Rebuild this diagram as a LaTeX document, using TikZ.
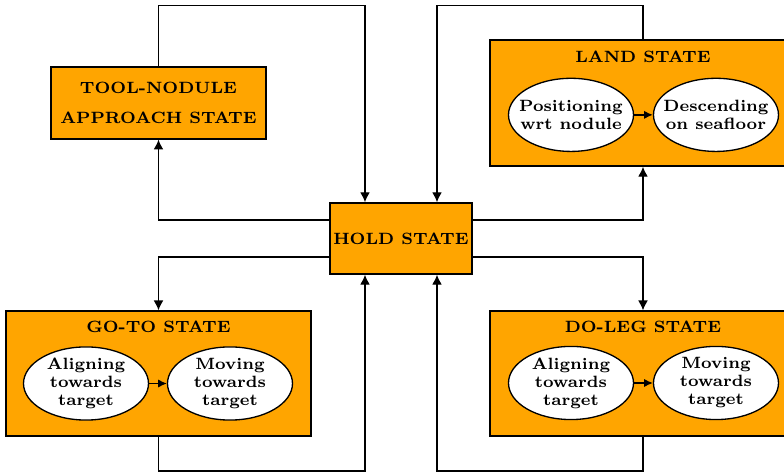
\documentclass[tikz,border=0pt]{standalone}
\usepackage{tikz}
\usetikzlibrary{shapes.geometric,arrows.meta,positioning,calc}
\definecolor{modeorange}{HTML}{FFA500}

\begin{document}
\begin{tikzpicture}[font=\fontsize{7.45}{8.2}\selectfont\bfseries,mode/.style={draw,fill=modeorange,line width=0.6pt,align=center,inner sep=0pt},phase/.style={ellipse,draw,fill=white,line width=0.6pt,align=center,minimum width=2cm,minimum height=1.17cm,inner xsep=-5pt,inner ysep=-2pt},link/.style={-{Latex[length=4.5pt,width=4.5pt]},line width=0.6pt},sublink/.style={-{Latex[length=4pt,width=3.8pt]},line width=0.6pt}]
\useasboundingbox (-6.416,-3.784) rectangle (6.128,3.816);
\coordinate (top) at (0,3.728);
\coordinate (bot) at (0,-3.72);
\node[mode,minimum width=2.27cm,minimum height=1.14cm] (hold) at (0,0) {HOLD STATE};
\node[mode,minimum width=3.44cm,minimum height=1.15cm] (tool) at (-3.88,2.168) {TOOL-NODULE\\[5.5pt]APPROACH STATE};
\node[mode,minimum width=4.9cm,minimum height=2.02cm] (land) at (3.872,2.168) {};
\node[mode,minimum width=4.88cm,minimum height=2cm] (goto) at (-3.88,-2.16) {};
\node[mode,minimum width=4.9cm,minimum height=2cm] (doleg) at (3.872,-2.16) {};
\node at ([yshift=-0.29cm]land.north) {LAND STATE};
\node at ([yshift=-0.27cm]goto.north) {GO-TO STATE};
\node at ([yshift=-0.27cm]doleg.north) {DO-LEG STATE};
\node[phase] (land1) at ([shift={(-1.152,-0.19)}]land.center) {Positioning\\wrt nodule};
\node[phase] (land2) at ([shift={(1.168,-0.19)}]land.center) {Descending\\on seafloor};
\node[phase] (goto1) at ([shift={(-1.16,-0.16)}]goto.center) {Aligning\\towards\\target};
\node[phase] (goto2) at ([shift={(1.144,-0.16)}]goto.center) {Moving\\towards\\target};
\node[phase] (doleg1) at ([shift={(-1.152,-0.152)}]doleg.center) {Aligning\\towards\\target};
\node[phase] (doleg2) at ([shift={(1.168,-0.152)}]doleg.center) {Moving\\towards\\target};
\draw[link] (tool.north) -- (tool.north |- top) -| ([xshift=-0.576cm]hold.north);
\draw[link] ([yshift=0.296cm]hold.west) -| (tool.south);
\draw[link] (land.north) -- (land.north |- top) -| ([xshift=0.576cm]hold.north);
\draw[link] ([yshift=0.296cm]hold.east) -| (land.south);
\draw[link] ([yshift=-0.296cm]hold.west) -| (goto.north);
\draw[link] (goto.south) -- (goto.south |- bot) -| ([xshift=-0.576cm]hold.south);
\draw[link] ([yshift=-0.296cm]hold.east) -| (doleg.north);
\draw[link] (doleg.south) -- (doleg.south |- bot) -| ([xshift=0.576cm]hold.south);
\draw[sublink] (land1) -- (land2);\draw[sublink] (goto1) -- (goto2);\draw[sublink] (doleg1) -- (doleg2);
\end{tikzpicture}
\end{document}
